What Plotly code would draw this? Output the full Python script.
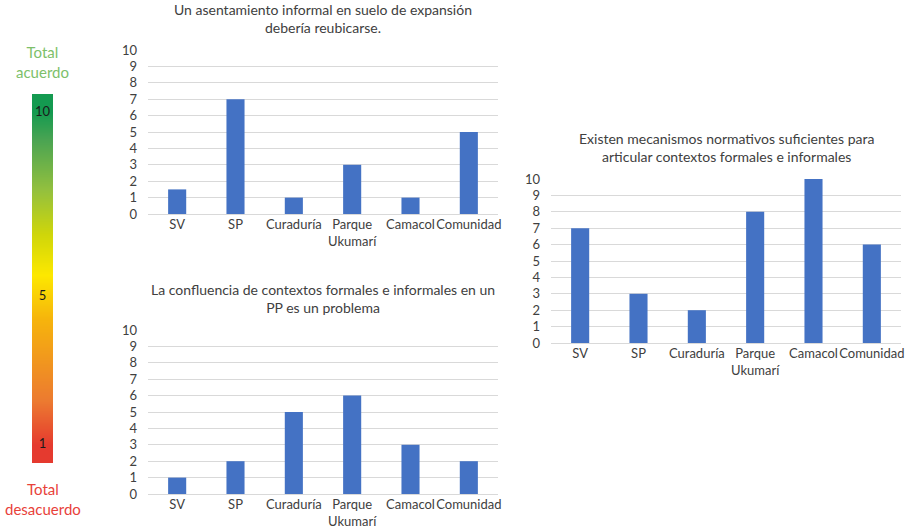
import plotly.graph_objects as go

CATEGORIES = ["SV", "SP", "Curaduría", "Parque<br>Ukumarí", "Camacol", "Comunidad"]

REUBICAR_TITLE = "Un asentamiento informal en suelo de expansión<br>debería reubicarse."
REUBICAR = [1.5, 7, 1, 3, 1, 5]

CONFLUENCIA_TITLE = "La confluencia de contextos formales e informales en un<br>PP es un problema"
CONFLUENCIA = [1, 2, 5, 6, 3, 2]

MECANISMOS_TITLE = "Existen mecanismos normativos suficientes para<br>articular contextos formales e informales"
MECANISMOS = [7, 3, 2, 8, 10, 6]

SCALE_LEVELS = [1, 2, 3, 4, 5, 6, 7, 8, 9, 10]
SCALE_LABEL_LEVELS = [1, 5, 10]
SCALE_TOP_LABEL = "Total<br>acuerdo"
SCALE_BOTTOM_LABEL = "Total<br>desacuerdo"

W, H = 922, 527
FONT = "Lato, 'Open Sans', sans-serif"
BAR_COLOR = "#4472c4"
GRID = "#d9d9d9"
TEXT = "#404040"


def px_x(a, b):
    return [a / W, b / W]


def px_y(top, bottom):
    return [1 - bottom / H, 1 - top / H]


fig = go.Figure()

panels = [
    (REUBICAR, REUBICAR_TITLE, "x", "y"),
    (CONFLUENCIA, CONFLUENCIA_TITLE, "x2", "y2"),
    (MECANISMOS, MECANISMOS_TITLE, "x3", "y3"),
]
for values, title, xa, ya in panels:
    fig.add_trace(
        go.Bar(
            x=CATEGORIES,
            y=values,
            xaxis=xa,
            yaxis=ya,
            marker={"color": BAR_COLOR, "line": {"width": 0}},
            showlegend=False,
            hoverinfo="x+y",
        )
    )
    fig.add_annotation(
        text=title,
        xref=f"{xa} domain",
        yref=f"{ya} domain",
        x=0.5,
        y=1,
        xanchor="center",
        yanchor="bottom",
        yshift=12,
        showarrow=False,
        font={"family": FONT, "size": 14, "color": TEXT},
        align="center",
    )

# agreement scale on the left
fig.add_trace(
    go.Heatmap(
        z=[[v] for v in SCALE_LEVELS],
        y=SCALE_LEVELS,
        x=[0],
        xaxis="x4",
        yaxis="y4",
        zsmooth="best",
        zmin=min(SCALE_LEVELS),
        zmax=max(SCALE_LEVELS),
        colorscale=[
            [0.0, "#e53a2f"],
            [0.133, "#ec7a30"],
            [0.378, "#f6b40c"],
            [0.511, "#fde800"],
            [0.633, "#cfd60a"],
            [0.767, "#93c03e"],
            [0.917, "#4aa452"],
            [1.0, "#149a50"],
        ],
        showscale=False,
        hoverinfo="skip",
    )
)
fig.add_trace(
    go.Scatter(
        x=[0] * len(SCALE_LABEL_LEVELS),
        y=SCALE_LABEL_LEVELS,
        text=[str(v) for v in SCALE_LABEL_LEVELS],
        mode="text",
        textfont={"family": FONT, "size": 13, "color": "#1a1a1a"},
        xaxis="x4",
        yaxis="y4",
        showlegend=False,
        hoverinfo="skip",
    )
)
for label, ypos, anchor, shift, color in [
    (SCALE_TOP_LABEL, 1, "bottom", 11, "#7dbf6a"),
    (SCALE_BOTTOM_LABEL, 0, "top", -15, "#e8413a"),
]:
    fig.add_annotation(
        text=label,
        xref="x4 domain",
        yref="y4 domain",
        x=0.5,
        y=ypos,
        xanchor="center",
        yanchor=anchor,
        yshift=shift,
        showarrow=False,
        font={"family": FONT, "size": 15, "color": color},
        align="center",
    )

xaxis_style = dict(
    type="category",
    range=[-0.5, 5.5],
    showgrid=False,
    showline=True,
    linecolor=GRID,
    linewidth=1,
    ticks="",
    tickangle=0,
    automargin=False,
    ticklabelstandoff=-2,
    tickfont={"family": FONT, "size": 13, "color": TEXT},
    fixedrange=True,
)
yaxis_style = dict(
    range=[0, 10],
    dtick=1,
    showgrid=True,
    gridcolor=GRID,
    gridwidth=1,
    zeroline=False,
    showline=False,
    ticks="",
    automargin=False,
    ticklabelstandoff=10,
    tickfont={"family": FONT, "size": 13, "color": TEXT},
    fixedrange=True,
)

fig.update_layout(
    width=W,
    height=H,
    margin={"l": 0, "r": 0, "t": 0, "b": 0},
    paper_bgcolor="white",
    plot_bgcolor="white",
    bargap=0.69,
    font={"family": FONT, "color": TEXT},
    xaxis=dict(xaxis_style, domain=px_x(148, 498), anchor="y"),
    yaxis=dict(yaxis_style, domain=px_y(50, 214), anchor="x"),
    xaxis2=dict(xaxis_style, domain=px_x(148, 498), anchor="y2"),
    yaxis2=dict(yaxis_style, domain=px_y(330, 494), anchor="x2"),
    xaxis3=dict(xaxis_style, domain=px_x(551, 901), anchor="y3"),
    yaxis3=dict(yaxis_style, domain=px_y(179, 343), anchor="x3"),
    xaxis4=dict(domain=px_x(32, 53), anchor="y4", visible=False, range=[-0.5, 0.5], fixedrange=True),
    yaxis4=dict(domain=px_y(94, 463), anchor="x4", visible=False, range=[0.5, 10.5], fixedrange=True),
)

fig.write_html(
    "out.html",
    config={"displayModeBar": False},
    post_script="document.body.style.margin = '0';",
)
